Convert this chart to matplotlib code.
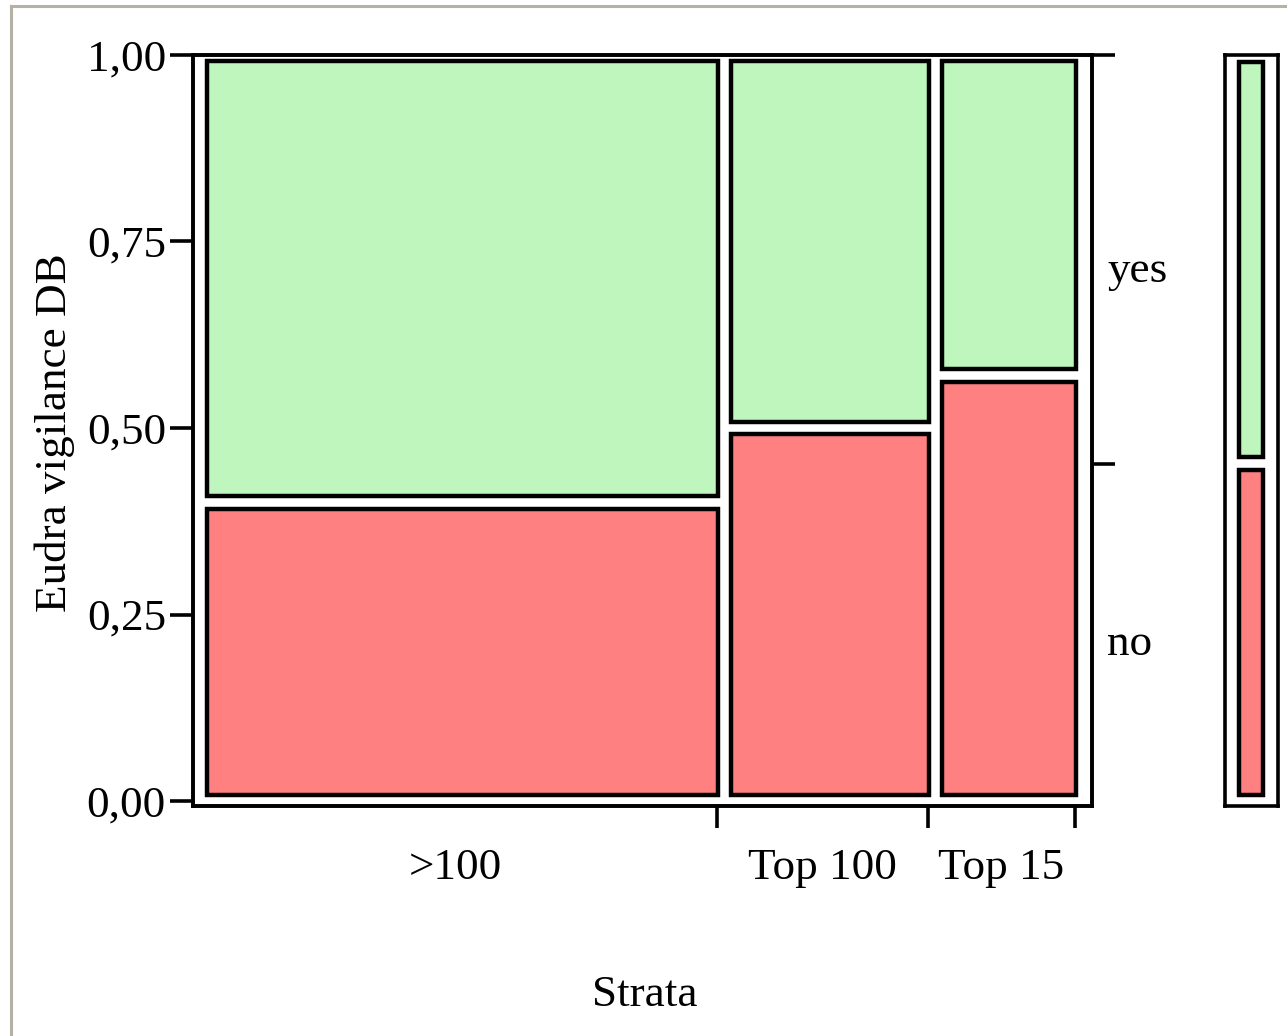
import matplotlib
matplotlib.use("Agg")
import matplotlib.pyplot as plt
from matplotlib.patches import Rectangle
from matplotlib.lines import Line2D

strata = ['>100', 'Top 100', 'Top 15']
strata_share = [0.594, 0.239, 0.167]   # column widths (share of all rows)
prop_no = [0.40, 0.50, 0.57]           # share of "no" in each stratum
responses = ['no', 'yes']
y_ticks = [0.0, 0.25, 0.50, 0.75, 1.0]
y_ticklabels = ['0,00', '0,25', '0,50', '0,75', '1,00']

overall_no = sum(w * p for w, p in zip(strata_share, prop_no))

red = '#ff8080'
green = '#bef6be'

plt.rcParams['font.family'] = ['Liberation Serif', 'DejaVu Serif']
fs = 32.5

W, H = 1287, 1036
fig = plt.figure(figsize=(W / 100, H / 100), dpi=100)

# pixel geometry
x_left, x_right, x_end = 193, 1092, 1075
y_top, y_bot, y_zero = 55, 806, 801
px_x = 1.0 / (x_end - x_left)
px_y = 1.0 / (y_zero - y_top)

ax = fig.add_axes([x_left / W, (H - y_bot) / H, (x_right - x_left) / W, (y_bot - y_top) / H])
ax.set_xlim(0, (x_right - x_left) * px_x)
ax.set_ylim(-(y_bot - y_zero) * px_y, 1.0)

# tiles
ins_l, ins_r, ins_v = 14 * px_x, -1 * px_x, 6.5 * px_y
x0 = 0.0
edges = []
centers = []
for share, pno in zip(strata_share, prop_no):
    x1 = x0 + share
    edges.append(x1)
    centers.append((x0 + x1) / 2)
    tiles = [(0.0, pno, red), (pno, 1.0, green)]
    for ya, yb, col in tiles:
        ax.add_patch(Rectangle((x0 + ins_l, ya + ins_v), share - ins_l - ins_r,
                               yb - ya - 2 * ins_v, facecolor=col,
                               edgecolor='black', linewidth=3.2))
    x0 = x1

for s in ax.spines.values():
    s.set_linewidth(2.6)

ax.set_yticks(y_ticks)
ax.set_yticklabels(y_ticklabels, fontsize=fs)
ax.tick_params(axis='y', direction='out', length=16.5, width=2.6, pad=3)

ax.set_xticks(edges)
ax.set_xticklabels([])
ax.set_xticks(centers, minor=True)
ax.set_xticklabels(strata, minor=True, fontsize=fs)
ax.tick_params(axis='x', which='major', direction='out', length=16, width=2.6)
ax.tick_params(axis='x', which='minor', length=0, pad=30)

# right side ticks and response labels
ax_r = ax.twinx()
ax_r.set_ylim(ax.get_ylim())
ax_r.set_yticks([overall_no, 1.0])
ax_r.set_yticklabels([])
ax_r.tick_params(axis='y', direction='out', length=16.5, width=2.6)
for s in ax_r.spines.values():
    s.set_linewidth(2.6)
mids = [overall_no / 2, (overall_no + 1.0) / 2]
for lab, m in zip(responses, mids):
    ax_r.text(1.017, m - 0.016, lab, transform=ax_r.get_yaxis_transform(),
              fontsize=fs, ha='left', va='center')

# overall bar on the right
lg = fig.add_axes([1225 / W, (H - y_bot) / H, 53 / W, (y_bot - y_top) / H])
lg.set_xlim(0, 1)
lg.set_ylim(ax.get_ylim())
lg.set_xticks([])
lg.set_yticks([])
for s in lg.spines.values():
    s.set_linewidth(2.6)
bx0, bx1 = 14 / 53, 38 / 53
for ya, yb, col in [(0.0, overall_no, red), (overall_no, 1.0, green)]:
    lg.add_patch(Rectangle((bx0, ya + ins_v), bx1 - bx0, yb - ya - 2 * ins_v,
                           facecolor=col, edgecolor='black', linewidth=3.2))

fig.text(55 / W, 1 - 433 / H, 'Eudra vigilance DB', rotation=90,
         fontsize=fs, ha='center', va='center')
fig.text(645 / W, 1 - 995 / H, 'Strata', fontsize=fs, ha='center', va='center')

# grey frame (left and top edges)
frame_col = '#b5b1a4'
fig.add_artist(Line2D([11 / W, 11 / W], [0, 1 - 6 / H], color=frame_col, lw=2.2,
                      transform=fig.transFigure))
fig.add_artist(Line2D([11 / W, 1], [1 - 6 / H, 1 - 6 / H], color=frame_col, lw=2.2,
                      transform=fig.transFigure))

fig.savefig('out.png', dpi=100)
